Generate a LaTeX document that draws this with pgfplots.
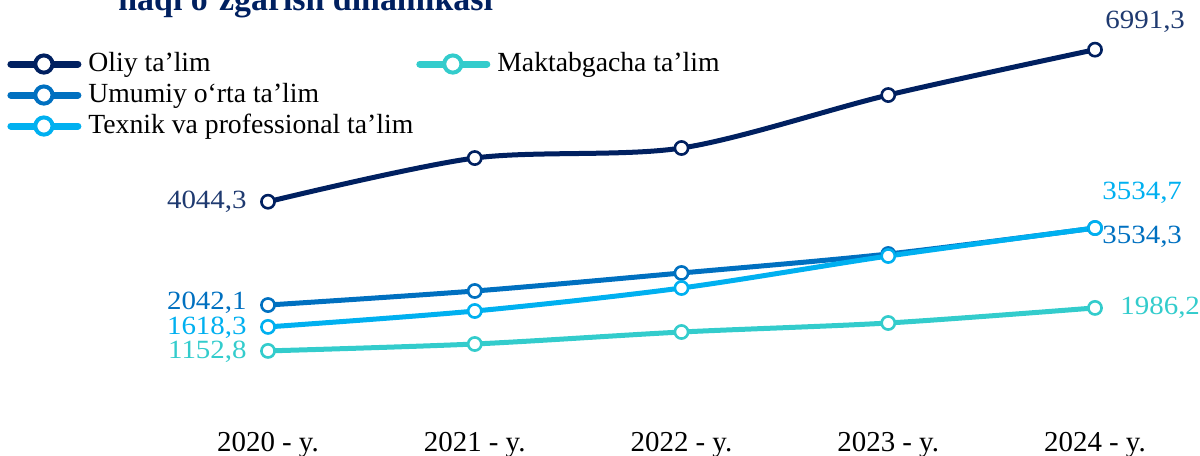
\documentclass[border=0pt]{standalone}
\usepackage{pgfplots}
\pgfplotsset{compat=1.18}
\usepackage{fontspec}
\setmainfont{Liberation Serif}
\newfontfamily\labfont{Liberation Serif}[FakeStretch=1.1]
\definecolor{cOliy}{HTML}{002060}
\definecolor{cOliyL}{HTML}{1F3A70}
\definecolor{cUmu}{HTML}{0070C0}
\definecolor{cTex}{HTML}{00B0F0}
\definecolor{cMak}{HTML}{33CCCC}
\begin{document}
\begin{tikzpicture}
\begin{axis}[
  at={(134bp,22.8bp)}, anchor=south west,
  scale only axis, width=413.5bp, height=180.6bp,
  xmin=0, xmax=4, ymin=0, ymax=7000, clip=false,
  axis line style={draw=none}, ytick=\empty,
  xtick={0,1,2,3,4},
  xticklabels={\mbox{2020 - y.},\mbox{2021 - y.},\mbox{2022 - y.},\mbox{2023 - y.},\mbox{2024 - y.}},
  major tick length=0pt,
  xticklabel style={anchor=base, yshift=-20.3bp, font=\fontsize{14.5}{16}\selectfont, inner sep=0pt},
  every axis plot/.append style={line width=2.5bp, smooth, mark=*, mark size=3.3bp,
     mark options={solid, fill=white, line width=1.3bp}},
  legend columns=2, legend cell align=left,
  legend image code/.code={
     \draw[#1, line width=3.5bp, line cap=round] (1.5bp,0bp) -- (35bp,0bp);
     \draw[#1, line width=2bp, fill=white] (18bp,0bp) circle (4.3bp);},
  legend style={draw=none, fill=none, at={(-0.3156,1.003)}, anchor=north west,
     inner sep=0pt, font=\fontsize{13.9}{15}\selectfont,
     nodes={inner sep=1bp, text height=10.5bp, text depth=3bp}, column sep=0.5bp,
     /tikz/every odd column/.append style={column sep=2.5bp}},
]
\addplot[color=cOliy] coordinates {(0,4044.3) (1,4891) (2,5085) (3,6112) (4,6991.3)};
\addlegendentry{Oliy ta’lim}
\addplot[color=cMak] coordinates {(0,1152.8) (1,1287) (2,1519) (3,1694) (4,1986.2)};
\addlegendentry{Maktabgacha ta’lim}
\addplot[color=cUmu] coordinates {(0,2042.1) (1,2314) (2,2663) (3,3031) (4,3534.3)};
\addlegendentry{Umumiy o‘rta ta’lim}
\addlegendimage{empty legend}
\addlegendentry{}
\addplot[color=cTex] coordinates {(0,1618.3) (1,1926) (2,2372) (3,2992) (4,3534.7)};
\addlegendentry{Texnik va professional ta’lim}
\addlegendimage{empty legend}
\addlegendentry{}

\tikzset{lab/.style={inner sep=0pt, font=\labfont\fontsize{13.2}{15}\selectfont}}
\node[lab, anchor=east, xshift=-10.5bp, text=cOliyL] at (axis cs:0,4044.3) {4044,3};
\node[lab, anchor=east, xshift=-10.5bp, yshift=1bp, text=cUmu] at (axis cs:0,2042.1) {2042,1};
\node[lab, anchor=east, xshift=-10.5bp, yshift=-0.6bp, text=cTex] at (axis cs:0,1618.3) {1618,3};
\node[lab, anchor=east, xshift=-10.5bp, yshift=-0.5bp, text=cMak] at (axis cs:0,1152.8) {1152,8};
\node[lab, anchor=west, xshift=5bp, yshift=14bp, text=cOliyL] at (axis cs:4,6991.3) {6991,3};
\node[lab, anchor=west, xshift=3.5bp, yshift=17.5bp, text=cTex] at (axis cs:4,3534.7) {3534,7};
\node[lab, anchor=west, xshift=3.5bp, yshift=-4.5bp, text=cUmu] at (axis cs:4,3534.3) {3534,3};
\node[lab, anchor=west, xshift=12.5bp, yshift=0bp, text=cMak] at (axis cs:4,1986.2) {1986,2};
\end{axis}
\node[anchor=base west, inner sep=0pt, text=cOliy, font=\bfseries\fontsize{17}{20}\selectfont] at (59bp,222.5bp) {haqi o‘zgarish dinamikasi};
\pgfresetboundingbox
\useasboundingbox (0,0) rectangle (600bp,228bp);
\end{tikzpicture}
\end{document}
